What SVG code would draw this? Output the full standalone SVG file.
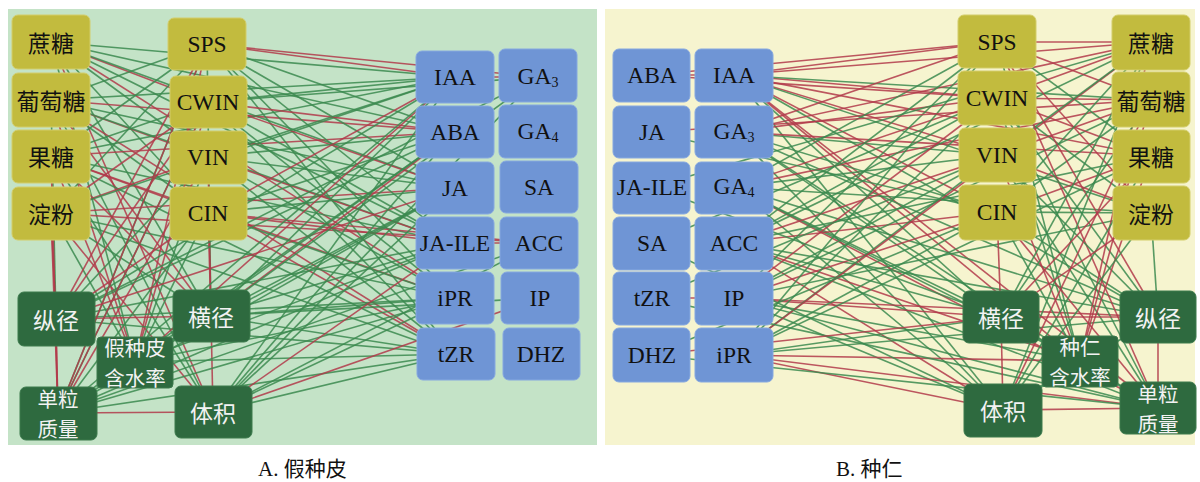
<svg xmlns="http://www.w3.org/2000/svg" width="1200" height="482" viewBox="0 0 1200 482">
<style>
.bg{stroke:none}
.ol rect{fill:#c2bb3e;stroke:#d3cd6a;stroke-width:1}
.dg rect{fill:#2e6a3f;stroke:#3c7a4d;stroke-width:1}
.bl rect{fill:#6f95d5;stroke:#86a8e0;stroke-width:1}
text{text-anchor:middle;dominant-baseline:central}
.lat{font-family:"Liberation Serif","Times New Roman",serif;font-size:23.5px;fill:#111}
.zh{font-family:"Noto Sans CJK SC","Noto Sans",sans-serif;font-size:23px;fill:#111}
.dg .zh{fill:#f2f2f2}
.dg .two{font-size:20.5px}
.cap{font-family:"Liberation Serif","Noto Sans CJK SC",serif;font-size:21px;fill:#111;text-anchor:start;dominant-baseline:auto}
#links line{stroke-width:1.6;stroke-opacity:0.85}
#links .r{stroke:#b23a4a}
#links .g{stroke:#3b8a4f}
</style>

<!-- panel backgrounds -->
<rect class="bg" x="8" y="9" width="589" height="436" fill="#c4e3c7"/>
<rect class="bg" x="605" y="9" width="590" height="436" fill="#f6f4cf"/>

<g id="links">
<!-- panel A: sugars / enzymes / traits to hormones -->
<line class="r" x1="51" y1="42" x2="208" y2="102"/>
<line class="g" x1="51" y1="42" x2="208" y2="157"/>
<line class="g" x1="51" y1="42" x2="208" y2="213"/>
<line class="g" x1="51" y1="42" x2="211" y2="316"/>
<line class="g" x1="51" y1="42" x2="455" y2="77"/>
<line class="g" x1="51" y1="42" x2="455" y2="188"/>
<line class="r" x1="51" y1="42" x2="213" y2="412"/>
<line class="g" x1="51" y1="42" x2="455" y2="132"/>
<line class="g" x1="51" y1="42" x2="455" y2="243"/>
<line class="r" x1="51" y1="42" x2="455" y2="298"/>
<line class="g" x1="51" y1="42" x2="135" y2="362"/>
<line class="g" x1="51" y1="100" x2="207" y2="44"/>
<line class="r" x1="51" y1="100" x2="208" y2="157"/>
<line class="g" x1="51" y1="100" x2="208" y2="213"/>
<line class="r" x1="51" y1="100" x2="211" y2="316"/>
<line class="g" x1="51" y1="100" x2="455" y2="77"/>
<line class="r" x1="51" y1="100" x2="455" y2="132"/>
<line class="g" x1="51" y1="100" x2="213" y2="412"/>
<line class="r" x1="51" y1="100" x2="135" y2="362"/>
<line class="g" x1="51" y1="100" x2="455" y2="188"/>
<line class="g" x1="51" y1="100" x2="455" y2="243"/>
<line class="r" x1="51" y1="100" x2="455" y2="354"/>
<line class="g" x1="51" y1="100" x2="56" y2="319"/>
<line class="g" x1="51" y1="156" x2="207" y2="44"/>
<line class="g" x1="51" y1="156" x2="208" y2="102"/>
<line class="r" x1="51" y1="156" x2="208" y2="213"/>
<line class="r" x1="51" y1="156" x2="211" y2="316"/>
<line class="g" x1="51" y1="156" x2="213" y2="412"/>
<line class="g" x1="51" y1="156" x2="455" y2="243"/>
<line class="r" x1="51" y1="156" x2="455" y2="298"/>
<line class="r" x1="51" y1="156" x2="135" y2="362"/>
<line class="g" x1="51" y1="156" x2="455" y2="77"/>
<line class="r" x1="51" y1="156" x2="455" y2="132"/>
<line class="g" x1="51" y1="156" x2="455" y2="354"/>
<line class="r" x1="51" y1="156" x2="58" y2="413"/>
<line class="g" x1="51" y1="213" x2="207" y2="44"/>
<line class="r" x1="51" y1="213" x2="208" y2="102"/>
<line class="r" x1="51" y1="213" x2="208" y2="157"/>
<line class="r" x1="51" y1="213" x2="56" y2="319"/>
<line class="g" x1="51" y1="213" x2="211" y2="316"/>
<line class="r" x1="51" y1="213" x2="213" y2="412"/>
<line class="g" x1="51" y1="213" x2="455" y2="354"/>
<line class="r" x1="51" y1="213" x2="538" y2="243"/>
<line class="g" x1="51" y1="213" x2="135" y2="362"/>
<line class="g" x1="51" y1="213" x2="455" y2="77"/>
<line class="r" x1="51" y1="213" x2="455" y2="188"/>
<line class="g" x1="51" y1="213" x2="455" y2="298"/>
<line class="r" x1="51" y1="213" x2="58" y2="413"/>
<line class="r" x1="207" y1="44" x2="455" y2="77"/>
<line class="g" x1="207" y1="44" x2="455" y2="132"/>
<line class="g" x1="207" y1="44" x2="455" y2="188"/>
<line class="g" x1="207" y1="44" x2="455" y2="243"/>
<line class="g" x1="207" y1="44" x2="455" y2="298"/>
<line class="r" x1="207" y1="44" x2="538" y2="77"/>
<line class="g" x1="207" y1="44" x2="211" y2="316"/>
<line class="r" x1="207" y1="44" x2="56" y2="319"/>
<line class="g" x1="207" y1="44" x2="455" y2="354"/>
<line class="r" x1="207" y1="44" x2="135" y2="362"/>
<line class="g" x1="207" y1="44" x2="58" y2="413"/>
<line class="g" x1="208" y1="102" x2="455" y2="77"/>
<line class="r" x1="208" y1="102" x2="455" y2="188"/>
<line class="g" x1="208" y1="102" x2="455" y2="243"/>
<line class="g" x1="208" y1="102" x2="455" y2="298"/>
<line class="g" x1="208" y1="102" x2="455" y2="354"/>
<line class="r" x1="208" y1="102" x2="56" y2="319"/>
<line class="g" x1="208" y1="102" x2="58" y2="413"/>
<line class="r" x1="208" y1="102" x2="455" y2="132"/>
<line class="g" x1="208" y1="102" x2="538" y2="77"/>
<line class="r" x1="208" y1="102" x2="135" y2="362"/>
<line class="g" x1="208" y1="157" x2="455" y2="77"/>
<line class="g" x1="208" y1="157" x2="455" y2="132"/>
<line class="r" x1="208" y1="157" x2="455" y2="243"/>
<line class="g" x1="208" y1="157" x2="455" y2="298"/>
<line class="g" x1="208" y1="157" x2="455" y2="354"/>
<line class="g" x1="208" y1="157" x2="56" y2="319"/>
<line class="r" x1="208" y1="157" x2="58" y2="413"/>
<line class="g" x1="208" y1="157" x2="455" y2="188"/>
<line class="r" x1="208" y1="157" x2="211" y2="316"/>
<line class="g" x1="208" y1="157" x2="135" y2="362"/>
<line class="r" x1="208" y1="213" x2="455" y2="77"/>
<line class="g" x1="208" y1="213" x2="455" y2="188"/>
<line class="r" x1="208" y1="213" x2="455" y2="243"/>
<line class="g" x1="208" y1="213" x2="455" y2="298"/>
<line class="r" x1="208" y1="213" x2="455" y2="354"/>
<line class="r" x1="208" y1="213" x2="56" y2="319"/>
<line class="r" x1="208" y1="213" x2="211" y2="316"/>
<line class="g" x1="208" y1="213" x2="58" y2="413"/>
<line class="g" x1="208" y1="213" x2="135" y2="362"/>
<line class="g" x1="208" y1="213" x2="455" y2="132"/>
<line class="r" x1="208" y1="213" x2="538" y2="243"/>
<line class="r" x1="56" y1="319" x2="211" y2="316"/>
<line class="r" x1="56" y1="319" x2="58" y2="413"/>
<line class="g" x1="56" y1="319" x2="455" y2="77"/>
<line class="g" x1="56" y1="319" x2="455" y2="132"/>
<line class="r" x1="56" y1="319" x2="455" y2="188"/>
<line class="g" x1="56" y1="319" x2="455" y2="243"/>
<line class="g" x1="56" y1="319" x2="455" y2="298"/>
<line class="g" x1="56" y1="319" x2="455" y2="354"/>
<line class="g" x1="56" y1="319" x2="538" y2="77"/>
<line class="r" x1="211" y1="316" x2="213" y2="412"/>
<line class="g" x1="211" y1="316" x2="455" y2="77"/>
<line class="r" x1="211" y1="316" x2="455" y2="132"/>
<line class="g" x1="211" y1="316" x2="455" y2="188"/>
<line class="g" x1="211" y1="316" x2="455" y2="243"/>
<line class="g" x1="211" y1="316" x2="455" y2="298"/>
<line class="g" x1="211" y1="316" x2="455" y2="354"/>
<line class="g" x1="211" y1="316" x2="58" y2="413"/>
<line class="g" x1="211" y1="316" x2="538" y2="77"/>
<line class="g" x1="211" y1="316" x2="540" y2="298"/>
<line class="r" x1="135" y1="362" x2="455" y2="77"/>
<line class="g" x1="135" y1="362" x2="455" y2="132"/>
<line class="g" x1="135" y1="362" x2="455" y2="188"/>
<line class="g" x1="135" y1="362" x2="455" y2="243"/>
<line class="g" x1="135" y1="362" x2="455" y2="298"/>
<line class="g" x1="135" y1="362" x2="455" y2="354"/>
<line class="g" x1="135" y1="362" x2="211" y2="316"/>
<line class="r" x1="58" y1="413" x2="213" y2="412"/>
<line class="g" x1="58" y1="413" x2="455" y2="77"/>
<line class="g" x1="58" y1="413" x2="455" y2="188"/>
<line class="g" x1="58" y1="413" x2="455" y2="243"/>
<line class="g" x1="58" y1="413" x2="455" y2="298"/>
<line class="g" x1="58" y1="413" x2="455" y2="354"/>
<line class="r" x1="58" y1="413" x2="207" y2="44"/>
<line class="r" x1="58" y1="413" x2="208" y2="102"/>
<line class="g" x1="58" y1="413" x2="455" y2="132"/>
<line class="g" x1="58" y1="413" x2="539" y2="243"/>
<line class="g" x1="213" y1="412" x2="455" y2="77"/>
<line class="g" x1="213" y1="412" x2="455" y2="132"/>
<line class="g" x1="213" y1="412" x2="455" y2="188"/>
<line class="r" x1="213" y1="412" x2="455" y2="243"/>
<line class="g" x1="213" y1="412" x2="455" y2="298"/>
<line class="g" x1="213" y1="412" x2="455" y2="354"/>
<line class="g" x1="213" y1="412" x2="538" y2="243"/>
<line class="g" x1="213" y1="412" x2="538" y2="77"/>
<line class="r" x1="213" y1="412" x2="540" y2="298"/>
<line class="r" x1="455" y1="77" x2="538" y2="77"/>
<line class="r" x1="455" y1="243" x2="538" y2="243"/>

<!-- panel B: hormones to enzymes / sugars / traits -->
<line class="r" x1="734" y1="75" x2="997" y2="42"/>
<line class="r" x1="734" y1="75" x2="997" y2="98"/>
<line class="r" x1="734" y1="75" x2="997" y2="155"/>
<line class="r" x1="734" y1="75" x2="997" y2="212"/>
<line class="r" x1="734" y1="75" x2="1151" y2="42"/>
<line class="g" x1="734" y1="75" x2="1151" y2="100"/>
<line class="g" x1="734" y1="75" x2="1001" y2="317"/>
<line class="r" x1="734" y1="75" x2="1080" y2="361"/>
<line class="g" x1="734" y1="75" x2="1003" y2="410"/>
<line class="r" x1="734" y1="75" x2="1151" y2="156"/>
<line class="g" x1="734" y1="75" x2="1151" y2="213"/>
<line class="r" x1="734" y1="75" x2="1158" y2="408"/>
<line class="g" x1="734" y1="75" x2="1158" y2="317"/>
<line class="r" x1="734" y1="132" x2="997" y2="42"/>
<line class="g" x1="734" y1="132" x2="997" y2="155"/>
<line class="r" x1="734" y1="132" x2="1151" y2="156"/>
<line class="g" x1="734" y1="132" x2="1158" y2="317"/>
<line class="g" x1="734" y1="132" x2="1003" y2="410"/>
<line class="g" x1="734" y1="132" x2="997" y2="212"/>
<line class="r" x1="734" y1="132" x2="997" y2="98"/>
<line class="r" x1="734" y1="132" x2="1151" y2="42"/>
<line class="g" x1="734" y1="132" x2="1001" y2="317"/>
<line class="g" x1="734" y1="132" x2="1080" y2="361"/>
<line class="g" x1="734" y1="187" x2="997" y2="42"/>
<line class="r" x1="734" y1="187" x2="997" y2="98"/>
<line class="g" x1="734" y1="187" x2="1151" y2="213"/>
<line class="g" x1="734" y1="187" x2="1001" y2="317"/>
<line class="r" x1="734" y1="187" x2="1158" y2="408"/>
<line class="g" x1="734" y1="187" x2="1080" y2="361"/>
<line class="g" x1="734" y1="187" x2="997" y2="155"/>
<line class="r" x1="734" y1="187" x2="1151" y2="100"/>
<line class="g" x1="734" y1="187" x2="1003" y2="410"/>
<line class="g" x1="734" y1="187" x2="1158" y2="317"/>
<line class="g" x1="734" y1="243" x2="997" y2="98"/>
<line class="r" x1="734" y1="243" x2="997" y2="155"/>
<line class="g" x1="734" y1="243" x2="1151" y2="42"/>
<line class="g" x1="734" y1="243" x2="1158" y2="317"/>
<line class="r" x1="734" y1="243" x2="1003" y2="410"/>
<line class="g" x1="734" y1="243" x2="1158" y2="408"/>
<line class="g" x1="734" y1="243" x2="997" y2="42"/>
<line class="r" x1="734" y1="243" x2="997" y2="212"/>
<line class="g" x1="734" y1="243" x2="1151" y2="156"/>
<line class="g" x1="734" y1="243" x2="1001" y2="317"/>
<line class="r" x1="734" y1="243" x2="1080" y2="361"/>
<line class="g" x1="734" y1="298" x2="997" y2="42"/>
<line class="r" x1="734" y1="298" x2="997" y2="212"/>
<line class="g" x1="734" y1="298" x2="1151" y2="100"/>
<line class="r" x1="734" y1="298" x2="1001" y2="317"/>
<line class="g" x1="734" y1="298" x2="1080" y2="361"/>
<line class="g" x1="734" y1="298" x2="1158" y2="408"/>
<line class="r" x1="734" y1="298" x2="997" y2="98"/>
<line class="g" x1="734" y1="298" x2="997" y2="155"/>
<line class="g" x1="734" y1="298" x2="1151" y2="213"/>
<line class="g" x1="734" y1="298" x2="1003" y2="410"/>
<line class="r" x1="734" y1="298" x2="1158" y2="317"/>
<line class="g" x1="734" y1="355" x2="997" y2="98"/>
<line class="g" x1="734" y1="355" x2="997" y2="155"/>
<line class="r" x1="734" y1="355" x2="1003" y2="410"/>
<line class="r" x1="734" y1="355" x2="1158" y2="408"/>
<line class="g" x1="734" y1="355" x2="1151" y2="156"/>
<line class="g" x1="734" y1="355" x2="1158" y2="317"/>
<line class="g" x1="734" y1="355" x2="997" y2="42"/>
<line class="g" x1="734" y1="355" x2="997" y2="212"/>
<line class="r" x1="734" y1="355" x2="1151" y2="42"/>
<line class="g" x1="734" y1="355" x2="1001" y2="317"/>
<line class="r" x1="734" y1="355" x2="1080" y2="361"/>
<line class="r" x1="652" y1="75" x2="997" y2="98"/>
<line class="r" x1="652" y1="75" x2="997" y2="42"/>
<line class="g" x1="652" y1="132" x2="997" y2="212"/>
<line class="r" x1="652" y1="132" x2="1151" y2="100"/>
<line class="g" x1="652" y1="187" x2="1001" y2="317"/>
<line class="g" x1="652" y1="187" x2="1151" y2="42"/>
<line class="g" x1="652" y1="243" x2="1003" y2="410"/>
<line class="g" x1="652" y1="243" x2="997" y2="98"/>
<line class="g" x1="652" y1="298" x2="997" y2="155"/>
<line class="g" x1="652" y1="298" x2="1158" y2="408"/>
<line class="r" x1="652" y1="355" x2="1001" y2="317"/>
<line class="g" x1="652" y1="355" x2="1158" y2="408"/>
<line class="g" x1="652" y1="355" x2="997" y2="212"/>
<line class="r" x1="652" y1="75" x2="734" y2="75"/>
<line class="r" x1="652" y1="298" x2="734" y2="298"/>
<line class="r" x1="997" y1="42" x2="1151" y2="42"/>
<line class="r" x1="997" y1="42" x2="1151" y2="100"/>
<line class="g" x1="997" y1="42" x2="1151" y2="156"/>
<line class="r" x1="997" y1="42" x2="1151" y2="213"/>
<line class="r" x1="997" y1="98" x2="1151" y2="42"/>
<line class="r" x1="997" y1="98" x2="1151" y2="100"/>
<line class="r" x1="997" y1="98" x2="1151" y2="156"/>
<line class="g" x1="997" y1="98" x2="1151" y2="213"/>
<line class="g" x1="997" y1="155" x2="1151" y2="42"/>
<line class="r" x1="997" y1="155" x2="1151" y2="100"/>
<line class="r" x1="997" y1="155" x2="1151" y2="213"/>
<line class="g" x1="997" y1="212" x2="1151" y2="42"/>
<line class="g" x1="997" y1="212" x2="1151" y2="100"/>
<line class="r" x1="997" y1="212" x2="1151" y2="156"/>
<line class="g" x1="997" y1="212" x2="1151" y2="213"/>
<line class="r" x1="997" y1="42" x2="1158" y2="317"/>
<line class="g" x1="997" y1="42" x2="1080" y2="361"/>
<line class="r" x1="997" y1="42" x2="1158" y2="408"/>
<line class="g" x1="997" y1="98" x2="1080" y2="361"/>
<line class="g" x1="997" y1="98" x2="1158" y2="317"/>
<line class="g" x1="997" y1="98" x2="1158" y2="408"/>
<line class="g" x1="997" y1="155" x2="1158" y2="317"/>
<line class="g" x1="997" y1="155" x2="1158" y2="408"/>
<line class="r" x1="997" y1="155" x2="1080" y2="361"/>
<line class="r" x1="997" y1="212" x2="1001" y2="317"/>
<line class="g" x1="997" y1="212" x2="1158" y2="317"/>
<line class="g" x1="997" y1="212" x2="1080" y2="361"/>
<line class="r" x1="997" y1="212" x2="1158" y2="408"/>
<line class="g" x1="1151" y1="42" x2="1001" y2="317"/>
<line class="g" x1="1151" y1="42" x2="1003" y2="410"/>
<line class="r" x1="1151" y1="42" x2="1080" y2="361"/>
<line class="g" x1="1151" y1="100" x2="1001" y2="317"/>
<line class="r" x1="1151" y1="100" x2="1080" y2="361"/>
<line class="r" x1="1151" y1="100" x2="1003" y2="410"/>
<line class="r" x1="1151" y1="156" x2="1001" y2="317"/>
<line class="g" x1="1151" y1="156" x2="1003" y2="410"/>
<line class="r" x1="1151" y1="156" x2="1080" y2="361"/>
<line class="g" x1="1151" y1="213" x2="1158" y2="317"/>
<line class="g" x1="1151" y1="213" x2="1003" y2="410"/>
<line class="r" x1="1151" y1="213" x2="1001" y2="317"/>
<line class="r" x1="1001" y1="317" x2="1158" y2="317"/>
<line class="r" x1="1001" y1="317" x2="1003" y2="410"/>
<line class="r" x1="1158" y1="317" x2="1158" y2="408"/>
<line class="r" x1="1003" y1="410" x2="1158" y2="408"/>
<line class="g" x1="1001" y1="317" x2="1158" y2="408"/>
<line class="g" x1="1001" y1="317" x2="1080" y2="361"/>
<line class="g" x1="1080" y1="361" x2="1158" y2="408"/>
<line class="g" x1="1158" y1="317" x2="1003" y2="410"/>
<line class="g" x1="1003" y1="410" x2="1080" y2="361"/>
</g>

<!-- panel A nodes -->
<g id="a-zhetang" class="ol"><rect x="12" y="15" width="78" height="54" rx="6"/><text class="zh" x="51" y="42">蔗糖</text></g>
<g id="a-putaotang" class="ol"><rect x="12" y="73" width="78" height="54" rx="6"/><text class="zh" x="51" y="100">葡萄糖</text></g>
<g id="a-guotang" class="ol"><rect x="12" y="130" width="78" height="53" rx="6"/><text class="zh" x="51" y="156">果糖</text></g>
<g id="a-dianfen" class="ol"><rect x="12" y="187" width="78" height="53" rx="6"/><text class="zh" x="51" y="213">淀粉</text></g>
<g id="a-sps" class="ol"><rect x="168" y="18" width="78" height="52" rx="6"/><text class="lat" x="207" y="44">SPS</text></g>
<g id="a-cwin" class="ol"><rect x="170" y="76" width="77" height="52" rx="6"/><text class="lat" x="208" y="102">CWIN</text></g>
<g id="a-vin" class="ol"><rect x="170" y="131" width="77" height="53" rx="6"/><text class="lat" x="208" y="157">VIN</text></g>
<g id="a-cin" class="ol"><rect x="170" y="187" width="77" height="53" rx="6"/><text class="lat" x="208" y="213">CIN</text></g>
<g id="a-zongjing" class="dg"><rect x="18" y="292" width="77" height="54" rx="6"/><text class="zh" x="56" y="319">纵径</text></g>
<g id="a-hengjing" class="dg"><rect x="173" y="290" width="77" height="52" rx="6"/><text class="zh" x="211" y="316">横径</text></g>
<g id="a-hanshuilv" class="dg"><rect x="97" y="337" width="76" height="51" rx="4"/><text class="zh two" x="135" y="347">假种皮<tspan x="135" dy="30">含水率</tspan></text></g>
<g id="a-danlizhiliang" class="dg"><rect x="20" y="387" width="77" height="53" rx="6"/><text class="zh two" x="58" y="398">单粒<tspan x="58" dy="30">质量</tspan></text></g>
<g id="a-tiji" class="dg"><rect x="175" y="386" width="77" height="52" rx="6"/><text class="zh" x="213" y="412">体积</text></g>
<g id="a-iaa" class="bl"><rect x="416" y="51" width="78" height="52" rx="6"/><text class="lat" x="455" y="77">IAA</text></g>
<g id="a-aba" class="bl"><rect x="416" y="106" width="78" height="52" rx="6"/><text class="lat" x="455" y="132">ABA</text></g>
<g id="a-ja" class="bl"><rect x="416" y="162" width="78" height="52" rx="6"/><text class="lat" x="455" y="188">JA</text></g>
<g id="a-jaile" class="bl"><rect x="416" y="217" width="78" height="52" rx="6"/><text class="lat" x="455" y="243">JA-ILE</text></g>
<g id="a-ipr" class="bl"><rect x="416" y="272" width="78" height="52" rx="6"/><text class="lat" x="455" y="298">iPR</text></g>
<g id="a-tzr" class="bl"><rect x="417" y="328" width="78" height="52" rx="6"/><text class="lat" x="456" y="354">tZR</text></g>
<g id="a-ga3" class="bl"><rect x="499" y="49" width="78" height="53" rx="6"/><text class="lat" x="538" y="76">GA<tspan font-size="14" dy="6">3</tspan></text></g>
<g id="a-ga4" class="bl"><rect x="499" y="105" width="78" height="53" rx="6"/><text class="lat" x="538" y="131">GA<tspan font-size="14" dy="6">4</tspan></text></g>
<g id="a-sa" class="bl"><rect x="500" y="161" width="78" height="52" rx="6"/><text class="lat" x="539" y="187">SA</text></g>
<g id="a-acc" class="bl"><rect x="500" y="217" width="78" height="52" rx="6"/><text class="lat" x="539" y="243">ACC</text></g>
<g id="a-ip" class="bl"><rect x="501" y="272" width="78" height="52" rx="6"/><text class="lat" x="540" y="298">IP</text></g>
<g id="a-dhz" class="bl"><rect x="503" y="328" width="77" height="52" rx="6"/><text class="lat" x="541" y="354">DHZ</text></g>

<!-- panel B nodes -->
<g id="b-aba" class="bl"><rect x="613" y="49" width="77" height="53" rx="6"/><text class="lat" x="652" y="75">ABA</text></g>
<g id="b-ja" class="bl"><rect x="613" y="106" width="77" height="52" rx="6"/><text class="lat" x="652" y="132">JA</text></g>
<g id="b-jaile" class="bl"><rect x="613" y="162" width="77" height="52" rx="6"/><text class="lat" x="652" y="187">JA-ILE</text></g>
<g id="b-sa" class="bl"><rect x="613" y="217" width="77" height="53" rx="6"/><text class="lat" x="652" y="243">SA</text></g>
<g id="b-tzr" class="bl"><rect x="613" y="272" width="77" height="53" rx="6"/><text class="lat" x="652" y="298">tZR</text></g>
<g id="b-dhz" class="bl"><rect x="613" y="328" width="77" height="54" rx="6"/><text class="lat" x="652" y="355">DHZ</text></g>
<g id="b-iaa" class="bl"><rect x="695" y="49" width="78" height="53" rx="6"/><text class="lat" x="734" y="75">IAA</text></g>
<g id="b-ga3" class="bl"><rect x="695" y="106" width="78" height="52" rx="6"/><text class="lat" x="734" y="131">GA<tspan font-size="14" dy="6">3</tspan></text></g>
<g id="b-ga4" class="bl"><rect x="695" y="162" width="78" height="52" rx="6"/><text class="lat" x="734" y="186">GA<tspan font-size="14" dy="6">4</tspan></text></g>
<g id="b-acc" class="bl"><rect x="695" y="217" width="78" height="53" rx="6"/><text class="lat" x="734" y="243">ACC</text></g>
<g id="b-ip" class="bl"><rect x="695" y="272" width="78" height="53" rx="6"/><text class="lat" x="734" y="298">IP</text></g>
<g id="b-ipr" class="bl"><rect x="695" y="328" width="78" height="54" rx="6"/><text class="lat" x="734" y="355">iPR</text></g>
<g id="b-sps" class="ol"><rect x="958" y="15" width="78" height="53" rx="6"/><text class="lat" x="997" y="42">SPS</text></g>
<g id="b-cwin" class="ol"><rect x="958" y="71" width="78" height="54" rx="6"/><text class="lat" x="997" y="98">CWIN</text></g>
<g id="b-vin" class="ol"><rect x="959" y="128" width="77" height="54" rx="6"/><text class="lat" x="997" y="155">VIN</text></g>
<g id="b-cin" class="ol"><rect x="959" y="185" width="77" height="55" rx="6"/><text class="lat" x="997" y="212">CIN</text></g>
<g id="b-zhetang" class="ol"><rect x="1112" y="15" width="78" height="55" rx="6"/><text class="zh" x="1151" y="42">蔗糖</text></g>
<g id="b-putaotang" class="ol"><rect x="1112" y="72" width="78" height="55" rx="6"/><text class="zh" x="1151" y="100">葡萄糖</text></g>
<g id="b-guotang" class="ol"><rect x="1113" y="130" width="77" height="53" rx="6"/><text class="zh" x="1151" y="156">果糖</text></g>
<g id="b-dianfen" class="ol"><rect x="1113" y="186" width="77" height="54" rx="6"/><text class="zh" x="1151" y="213">淀粉</text></g>
<g id="b-hengjing" class="dg"><rect x="963" y="291" width="76" height="52" rx="6"/><text class="zh" x="1001" y="317">横径</text></g>
<g id="b-zongjing" class="dg"><rect x="1120" y="291" width="76" height="52" rx="6"/><text class="zh" x="1158" y="317">纵径</text></g>
<g id="b-hanshuilv" class="dg"><rect x="1042" y="336" width="76" height="51" rx="4"/><text class="zh two" x="1080" y="346">种仁<tspan x="1080" dy="30">含水率</tspan></text></g>
<g id="b-tiji" class="dg"><rect x="964" y="384" width="78" height="53" rx="6"/><text class="zh" x="1003" y="410">体积</text></g>
<g id="b-danlizhiliang" class="dg"><rect x="1120" y="382" width="76" height="52" rx="6"/><text class="zh two" x="1158" y="393">单粒<tspan x="1158" dy="30">质量</tspan></text></g>

<!-- captions -->
<text class="cap" x="258" y="476">A. 假种皮</text>
<text class="cap" x="836" y="476">B. 种仁</text>
</svg>
